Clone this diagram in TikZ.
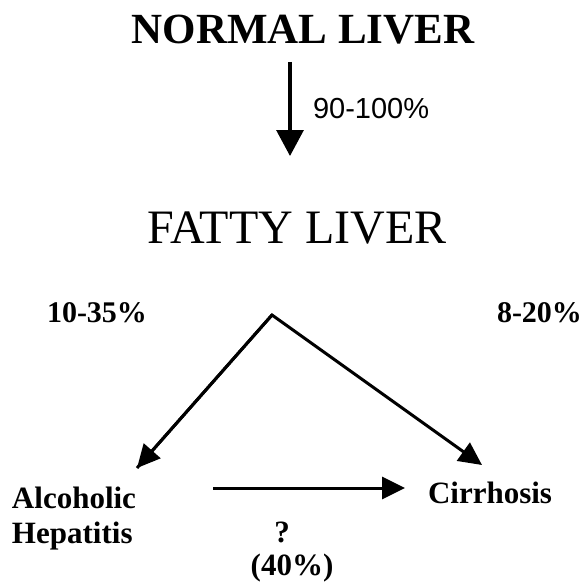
\documentclass[tikz,border=0pt]{standalone}
\usepackage{fontspec}
\setmainfont{Liberation Serif}
\newfontfamily\labsans{Liberation Sans}
\usetikzlibrary{arrows.meta}
\begin{document}
\begin{tikzpicture}[x=1pt,y=-1pt,
  txt/.style={inner sep=0pt, outer sep=0pt},
  bigbold/.style={txt, font=\fontsize{43}{50}\selectfont\bfseries},
  bigreg/.style={txt, font=\fontsize{48}{56}\selectfont},
  lab/.style={txt, font=\fontsize{30}{35}\selectfont\bfseries},
  term/.style={txt, font=\fontsize{31}{35}\selectfont\bfseries},
  conn/.style={line width=3pt, -{Triangle[length=23pt,width=22pt]}},
  vconn/.style={line width=3.2pt, -{Triangle[length=26pt,width=27pt]}}]
\useasboundingbox (0,0) rectangle (588,583);
\fill[white] (0,0) rectangle (588,583);

\node[bigbold, anchor=base] (NL) at (303,44) {NORMAL LIVER};
\node[bigreg, anchor=base] (FL) at (297,243) {FATTY LIVER};
\node[txt, anchor=base west, font=\fontsize{29}{34}\labsans] (p1) at (313,118) {90-100\%};

\node[lab, anchor=base west] (p2) at (47,322) {10-35\%};
\node[lab, anchor=base west] (p3) at (497,322) {8-20\%};

\node[term, anchor=base west] (AH) at (12,508) {Alcoholic};
\node[term, anchor=base west] (AH2) at (12,543) {Hepatitis};
\node[term, anchor=base west] (CI) at (428,503) {Cirrhosis};
\node[term, anchor=base] (q) at (282,542) {?};
\node[term, anchor=base] (p4) at (292,575) {(40\%)};

\coordinate (v0) at (290,62);
\coordinate (v1) at (290,156);
\coordinate (apex) at (272,315);
\coordinate (lt) at (137,468);
\coordinate (rt) at (482,465);
\coordinate (h0) at (213,488);
\coordinate (h1) at (405,488);

\draw[vconn] (v0) -- (v1);
\draw[conn, line join=miter] (lt) -- (apex) -- (rt);
\draw[conn] (apex) -- (lt);
\draw[conn] (h0) -- (h1);
\end{tikzpicture}
\end{document}
